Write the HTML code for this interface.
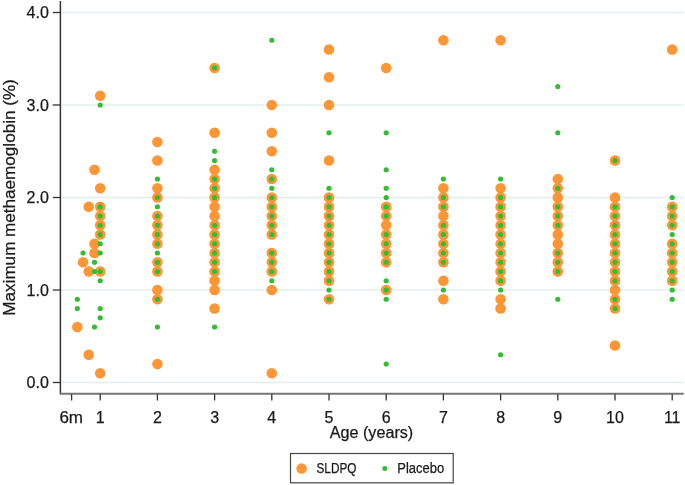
<!DOCTYPE html>
<html><head><meta charset="utf-8"><style>
html,body{margin:0;padding:0;background:#fff;width:685px;height:485px;overflow:hidden}
svg{display:block;will-change:transform;}
svg{font-family:"Liberation Sans",sans-serif}
text{stroke:#1a1a1a;stroke-width:0.25px}
</style></head><body><svg width="685" height="485" viewBox="0 0 685 485"><g stroke="#e4eef1" stroke-width="1.6"><line x1="61" y1="382.5" x2="683.7" y2="382.5"/><line x1="61" y1="290" x2="683.7" y2="290"/><line x1="61" y1="197.5" x2="683.7" y2="197.5"/><line x1="61" y1="105" x2="683.7" y2="105"/><line x1="61" y1="12.5" x2="683.7" y2="12.5"/></g><g fill="#fd9636"><circle cx="77.32" cy="327" r="5.3"/><circle cx="83.04" cy="262.25" r="5.3"/><circle cx="88.76" cy="206.75" r="5.3"/><circle cx="88.76" cy="271.5" r="5.3"/><circle cx="88.76" cy="354.75" r="5.3"/><circle cx="94.48" cy="169.75" r="5.3"/><circle cx="94.48" cy="243.75" r="5.3"/><circle cx="94.48" cy="253" r="5.3"/><circle cx="100.2" cy="95.75" r="5.3"/><circle cx="100.2" cy="188.25" r="5.3"/><circle cx="100.2" cy="206.75" r="5.3"/><circle cx="100.2" cy="216" r="5.3"/><circle cx="100.2" cy="225.25" r="5.3"/><circle cx="100.2" cy="234.5" r="5.3"/><circle cx="100.2" cy="271.5" r="5.3"/><circle cx="100.2" cy="373.25" r="5.3"/><circle cx="157.4" cy="142" r="5.3"/><circle cx="157.4" cy="160.5" r="5.3"/><circle cx="157.4" cy="188.25" r="5.3"/><circle cx="157.4" cy="197.5" r="5.3"/><circle cx="157.4" cy="216" r="5.3"/><circle cx="157.4" cy="225.25" r="5.3"/><circle cx="157.4" cy="234.5" r="5.3"/><circle cx="157.4" cy="243.75" r="5.3"/><circle cx="157.4" cy="262.25" r="5.3"/><circle cx="157.4" cy="271.5" r="5.3"/><circle cx="157.4" cy="290" r="5.3"/><circle cx="157.4" cy="299.25" r="5.3"/><circle cx="157.4" cy="364" r="5.3"/><circle cx="214.6" cy="68" r="5.3"/><circle cx="214.6" cy="132.75" r="5.3"/><circle cx="214.6" cy="169.75" r="5.3"/><circle cx="214.6" cy="179" r="5.3"/><circle cx="214.6" cy="188.25" r="5.3"/><circle cx="214.6" cy="197.5" r="5.3"/><circle cx="214.6" cy="206.75" r="5.3"/><circle cx="214.6" cy="216" r="5.3"/><circle cx="214.6" cy="225.25" r="5.3"/><circle cx="214.6" cy="234.5" r="5.3"/><circle cx="214.6" cy="243.75" r="5.3"/><circle cx="214.6" cy="253" r="5.3"/><circle cx="214.6" cy="262.25" r="5.3"/><circle cx="214.6" cy="271.5" r="5.3"/><circle cx="214.6" cy="280.75" r="5.3"/><circle cx="214.6" cy="290" r="5.3"/><circle cx="214.6" cy="308.5" r="5.3"/><circle cx="271.8" cy="105" r="5.3"/><circle cx="271.8" cy="132.75" r="5.3"/><circle cx="271.8" cy="151.25" r="5.3"/><circle cx="271.8" cy="179" r="5.3"/><circle cx="271.8" cy="197.5" r="5.3"/><circle cx="271.8" cy="206.75" r="5.3"/><circle cx="271.8" cy="216" r="5.3"/><circle cx="271.8" cy="225.25" r="5.3"/><circle cx="271.8" cy="234.5" r="5.3"/><circle cx="271.8" cy="253" r="5.3"/><circle cx="271.8" cy="262.25" r="5.3"/><circle cx="271.8" cy="271.5" r="5.3"/><circle cx="271.8" cy="290" r="5.3"/><circle cx="271.8" cy="373.25" r="5.3"/><circle cx="329" cy="49.5" r="5.3"/><circle cx="329" cy="77.25" r="5.3"/><circle cx="329" cy="105" r="5.3"/><circle cx="329" cy="160.5" r="5.3"/><circle cx="329" cy="197.5" r="5.3"/><circle cx="329" cy="206.75" r="5.3"/><circle cx="329" cy="216" r="5.3"/><circle cx="329" cy="225.25" r="5.3"/><circle cx="329" cy="234.5" r="5.3"/><circle cx="329" cy="243.75" r="5.3"/><circle cx="329" cy="253" r="5.3"/><circle cx="329" cy="262.25" r="5.3"/><circle cx="329" cy="271.5" r="5.3"/><circle cx="329" cy="280.75" r="5.3"/><circle cx="329" cy="299.25" r="5.3"/><circle cx="386.2" cy="68" r="5.3"/><circle cx="386.2" cy="206.75" r="5.3"/><circle cx="386.2" cy="216" r="5.3"/><circle cx="386.2" cy="225.25" r="5.3"/><circle cx="386.2" cy="234.5" r="5.3"/><circle cx="386.2" cy="243.75" r="5.3"/><circle cx="386.2" cy="253" r="5.3"/><circle cx="386.2" cy="262.25" r="5.3"/><circle cx="386.2" cy="290" r="5.3"/><circle cx="443.4" cy="40.25" r="5.3"/><circle cx="443.4" cy="188.25" r="5.3"/><circle cx="443.4" cy="197.5" r="5.3"/><circle cx="443.4" cy="206.75" r="5.3"/><circle cx="443.4" cy="216" r="5.3"/><circle cx="443.4" cy="225.25" r="5.3"/><circle cx="443.4" cy="234.5" r="5.3"/><circle cx="443.4" cy="243.75" r="5.3"/><circle cx="443.4" cy="253" r="5.3"/><circle cx="443.4" cy="262.25" r="5.3"/><circle cx="443.4" cy="280.75" r="5.3"/><circle cx="443.4" cy="299.25" r="5.3"/><circle cx="500.6" cy="40.25" r="5.3"/><circle cx="500.6" cy="188.25" r="5.3"/><circle cx="500.6" cy="197.5" r="5.3"/><circle cx="500.6" cy="206.75" r="5.3"/><circle cx="500.6" cy="216" r="5.3"/><circle cx="500.6" cy="225.25" r="5.3"/><circle cx="500.6" cy="234.5" r="5.3"/><circle cx="500.6" cy="243.75" r="5.3"/><circle cx="500.6" cy="253" r="5.3"/><circle cx="500.6" cy="262.25" r="5.3"/><circle cx="500.6" cy="271.5" r="5.3"/><circle cx="500.6" cy="280.75" r="5.3"/><circle cx="500.6" cy="299.25" r="5.3"/><circle cx="500.6" cy="308.5" r="5.3"/><circle cx="557.8" cy="179" r="5.3"/><circle cx="557.8" cy="188.25" r="5.3"/><circle cx="557.8" cy="197.5" r="5.3"/><circle cx="557.8" cy="206.75" r="5.3"/><circle cx="557.8" cy="216" r="5.3"/><circle cx="557.8" cy="225.25" r="5.3"/><circle cx="557.8" cy="234.5" r="5.3"/><circle cx="557.8" cy="243.75" r="5.3"/><circle cx="557.8" cy="253" r="5.3"/><circle cx="557.8" cy="262.25" r="5.3"/><circle cx="557.8" cy="271.5" r="5.3"/><circle cx="615" cy="160.5" r="5.3"/><circle cx="615" cy="197.5" r="5.3"/><circle cx="615" cy="206.75" r="5.3"/><circle cx="615" cy="216" r="5.3"/><circle cx="615" cy="225.25" r="5.3"/><circle cx="615" cy="234.5" r="5.3"/><circle cx="615" cy="243.75" r="5.3"/><circle cx="615" cy="253" r="5.3"/><circle cx="615" cy="262.25" r="5.3"/><circle cx="615" cy="271.5" r="5.3"/><circle cx="615" cy="280.75" r="5.3"/><circle cx="615" cy="290" r="5.3"/><circle cx="615" cy="299.25" r="5.3"/><circle cx="615" cy="308.5" r="5.3"/><circle cx="615" cy="345.5" r="5.3"/><circle cx="672.2" cy="49.5" r="5.3"/><circle cx="672.2" cy="206.75" r="5.3"/><circle cx="672.2" cy="216" r="5.3"/><circle cx="672.2" cy="225.25" r="5.3"/><circle cx="672.2" cy="243.75" r="5.3"/><circle cx="672.2" cy="253" r="5.3"/><circle cx="672.2" cy="262.25" r="5.3"/><circle cx="672.2" cy="271.5" r="5.3"/><circle cx="672.2" cy="280.75" r="5.3"/></g><g fill="#35bc35"><circle cx="77.32" cy="299.25" r="2.6"/><circle cx="77.32" cy="308.5" r="2.6"/><circle cx="83.04" cy="253" r="2.6"/><circle cx="94.48" cy="262.25" r="2.6"/><circle cx="94.48" cy="271.5" r="2.6"/><circle cx="94.48" cy="327" r="2.6"/><circle cx="100.2" cy="105" r="2.6"/><circle cx="100.2" cy="206.75" r="2.6"/><circle cx="100.2" cy="216" r="2.6"/><circle cx="100.2" cy="225.25" r="2.6"/><circle cx="100.2" cy="234.5" r="2.6"/><circle cx="100.2" cy="243.75" r="2.6"/><circle cx="100.2" cy="253" r="2.6"/><circle cx="100.2" cy="271.5" r="2.6"/><circle cx="100.2" cy="280.75" r="2.6"/><circle cx="100.2" cy="308.5" r="2.6"/><circle cx="100.2" cy="317.75" r="2.6"/><circle cx="157.4" cy="179" r="2.6"/><circle cx="157.4" cy="197.5" r="2.6"/><circle cx="157.4" cy="206.75" r="2.6"/><circle cx="157.4" cy="216" r="2.6"/><circle cx="157.4" cy="225.25" r="2.6"/><circle cx="157.4" cy="234.5" r="2.6"/><circle cx="157.4" cy="243.75" r="2.6"/><circle cx="157.4" cy="253" r="2.6"/><circle cx="157.4" cy="262.25" r="2.6"/><circle cx="157.4" cy="271.5" r="2.6"/><circle cx="157.4" cy="299.25" r="2.6"/><circle cx="157.4" cy="327" r="2.6"/><circle cx="214.6" cy="68" r="2.6"/><circle cx="214.6" cy="151.25" r="2.6"/><circle cx="214.6" cy="160.5" r="2.6"/><circle cx="214.6" cy="179" r="2.6"/><circle cx="214.6" cy="188.25" r="2.6"/><circle cx="214.6" cy="197.5" r="2.6"/><circle cx="214.6" cy="225.25" r="2.6"/><circle cx="214.6" cy="234.5" r="2.6"/><circle cx="214.6" cy="243.75" r="2.6"/><circle cx="214.6" cy="253" r="2.6"/><circle cx="214.6" cy="262.25" r="2.6"/><circle cx="214.6" cy="271.5" r="2.6"/><circle cx="214.6" cy="327" r="2.6"/><circle cx="271.8" cy="40.25" r="2.6"/><circle cx="271.8" cy="169.75" r="2.6"/><circle cx="271.8" cy="179" r="2.6"/><circle cx="271.8" cy="188.25" r="2.6"/><circle cx="271.8" cy="197.5" r="2.6"/><circle cx="271.8" cy="206.75" r="2.6"/><circle cx="271.8" cy="216" r="2.6"/><circle cx="271.8" cy="225.25" r="2.6"/><circle cx="271.8" cy="234.5" r="2.6"/><circle cx="271.8" cy="253" r="2.6"/><circle cx="271.8" cy="262.25" r="2.6"/><circle cx="271.8" cy="271.5" r="2.6"/><circle cx="271.8" cy="280.75" r="2.6"/><circle cx="329" cy="132.75" r="2.6"/><circle cx="329" cy="188.25" r="2.6"/><circle cx="329" cy="197.5" r="2.6"/><circle cx="329" cy="206.75" r="2.6"/><circle cx="329" cy="216" r="2.6"/><circle cx="329" cy="225.25" r="2.6"/><circle cx="329" cy="234.5" r="2.6"/><circle cx="329" cy="243.75" r="2.6"/><circle cx="329" cy="253" r="2.6"/><circle cx="329" cy="262.25" r="2.6"/><circle cx="329" cy="271.5" r="2.6"/><circle cx="329" cy="280.75" r="2.6"/><circle cx="329" cy="290" r="2.6"/><circle cx="329" cy="299.25" r="2.6"/><circle cx="386.2" cy="132.75" r="2.6"/><circle cx="386.2" cy="169.75" r="2.6"/><circle cx="386.2" cy="188.25" r="2.6"/><circle cx="386.2" cy="197.5" r="2.6"/><circle cx="386.2" cy="206.75" r="2.6"/><circle cx="386.2" cy="216" r="2.6"/><circle cx="386.2" cy="234.5" r="2.6"/><circle cx="386.2" cy="243.75" r="2.6"/><circle cx="386.2" cy="253" r="2.6"/><circle cx="386.2" cy="262.25" r="2.6"/><circle cx="386.2" cy="280.75" r="2.6"/><circle cx="386.2" cy="290" r="2.6"/><circle cx="386.2" cy="299.25" r="2.6"/><circle cx="386.2" cy="364" r="2.6"/><circle cx="443.4" cy="179" r="2.6"/><circle cx="443.4" cy="197.5" r="2.6"/><circle cx="443.4" cy="206.75" r="2.6"/><circle cx="443.4" cy="225.25" r="2.6"/><circle cx="443.4" cy="234.5" r="2.6"/><circle cx="443.4" cy="243.75" r="2.6"/><circle cx="443.4" cy="253" r="2.6"/><circle cx="443.4" cy="262.25" r="2.6"/><circle cx="443.4" cy="290" r="2.6"/><circle cx="500.6" cy="179" r="2.6"/><circle cx="500.6" cy="197.5" r="2.6"/><circle cx="500.6" cy="206.75" r="2.6"/><circle cx="500.6" cy="216" r="2.6"/><circle cx="500.6" cy="225.25" r="2.6"/><circle cx="500.6" cy="234.5" r="2.6"/><circle cx="500.6" cy="243.75" r="2.6"/><circle cx="500.6" cy="253" r="2.6"/><circle cx="500.6" cy="262.25" r="2.6"/><circle cx="500.6" cy="271.5" r="2.6"/><circle cx="500.6" cy="280.75" r="2.6"/><circle cx="500.6" cy="290" r="2.6"/><circle cx="500.6" cy="354.75" r="2.6"/><circle cx="557.8" cy="86.5" r="2.6"/><circle cx="557.8" cy="132.75" r="2.6"/><circle cx="557.8" cy="188.25" r="2.6"/><circle cx="557.8" cy="206.75" r="2.6"/><circle cx="557.8" cy="216" r="2.6"/><circle cx="557.8" cy="225.25" r="2.6"/><circle cx="557.8" cy="253" r="2.6"/><circle cx="557.8" cy="262.25" r="2.6"/><circle cx="557.8" cy="271.5" r="2.6"/><circle cx="557.8" cy="299.25" r="2.6"/><circle cx="615" cy="160.5" r="2.6"/><circle cx="615" cy="206.75" r="2.6"/><circle cx="615" cy="216" r="2.6"/><circle cx="615" cy="225.25" r="2.6"/><circle cx="615" cy="234.5" r="2.6"/><circle cx="615" cy="243.75" r="2.6"/><circle cx="615" cy="253" r="2.6"/><circle cx="615" cy="262.25" r="2.6"/><circle cx="615" cy="271.5" r="2.6"/><circle cx="615" cy="280.75" r="2.6"/><circle cx="615" cy="299.25" r="2.6"/><circle cx="615" cy="308.5" r="2.6"/><circle cx="672.2" cy="197.5" r="2.6"/><circle cx="672.2" cy="206.75" r="2.6"/><circle cx="672.2" cy="216" r="2.6"/><circle cx="672.2" cy="225.25" r="2.6"/><circle cx="672.2" cy="234.5" r="2.6"/><circle cx="672.2" cy="243.75" r="2.6"/><circle cx="672.2" cy="253" r="2.6"/><circle cx="672.2" cy="262.25" r="2.6"/><circle cx="672.2" cy="271.5" r="2.6"/><circle cx="672.2" cy="280.75" r="2.6"/><circle cx="672.2" cy="290" r="2.6"/><circle cx="672.2" cy="299.25" r="2.6"/></g><line x1="60.4" y1="1" x2="60.4" y2="394.5" stroke="#333" stroke-width="1.5"/><line x1="60" y1="393.8" x2="683.7" y2="393.8" stroke="#767676" stroke-width="2.1"/><g stroke="#333" stroke-width="1.3"><line x1="52.8" y1="382.5" x2="60" y2="382.5"/><line x1="52.8" y1="290" x2="60" y2="290"/><line x1="52.8" y1="197.5" x2="60" y2="197.5"/><line x1="52.8" y1="105" x2="60" y2="105"/><line x1="52.8" y1="12.5" x2="60" y2="12.5"/><line x1="71.6" y1="394" x2="71.6" y2="400.5"/><line x1="100.2" y1="394" x2="100.2" y2="400.5"/><line x1="157.4" y1="394" x2="157.4" y2="400.5"/><line x1="214.6" y1="394" x2="214.6" y2="400.5"/><line x1="271.8" y1="394" x2="271.8" y2="400.5"/><line x1="329" y1="394" x2="329" y2="400.5"/><line x1="386.2" y1="394" x2="386.2" y2="400.5"/><line x1="443.4" y1="394" x2="443.4" y2="400.5"/><line x1="500.6" y1="394" x2="500.6" y2="400.5"/><line x1="557.8" y1="394" x2="557.8" y2="400.5"/><line x1="615" y1="394" x2="615" y2="400.5"/><line x1="672.2" y1="394" x2="672.2" y2="400.5"/></g><g font-size="16" fill="#1a1a1a"><text x="48.8" y="388.3" text-anchor="end">0.0</text><text x="48.8" y="295.8" text-anchor="end">1.0</text><text x="48.8" y="203.3" text-anchor="end">2.0</text><text x="48.8" y="110.8" text-anchor="end">3.0</text><text x="48.8" y="18.3" text-anchor="end">4.0</text><text x="71.2" y="422.5" text-anchor="middle" textLength="23.6" lengthAdjust="spacingAndGlyphs">6m</text><text x="100.2" y="422.5" text-anchor="middle">1</text><text x="157.4" y="422.5" text-anchor="middle">2</text><text x="214.6" y="422.5" text-anchor="middle">3</text><text x="271.8" y="422.5" text-anchor="middle">4</text><text x="329" y="422.5" text-anchor="middle">5</text><text x="386.2" y="422.5" text-anchor="middle">6</text><text x="443.4" y="422.5" text-anchor="middle">7</text><text x="500.6" y="422.5" text-anchor="middle">8</text><text x="557.8" y="422.5" text-anchor="middle">9</text><text x="615" y="422.5" text-anchor="middle">10</text><text x="672.2" y="422.5" text-anchor="middle">11</text></g><text x="371.5" y="438.2" text-anchor="middle" font-size="16" fill="#1a1a1a" textLength="83.5" lengthAdjust="spacingAndGlyphs">Age (years)</text><text transform="translate(14.7,197.45) rotate(-90)" text-anchor="middle" font-size="16" fill="#1a1a1a" textLength="236.5" lengthAdjust="spacingAndGlyphs">Maximum methaemoglobin (%)</text><rect x="290.5" y="453.5" width="162.7" height="29.3" fill="#fff" stroke="#444" stroke-width="1.2"/><circle cx="301.6" cy="468.5" r="5.25" fill="#fd9636"/><circle cx="384.8" cy="468.4" r="2.5" fill="#35bc35"/><text x="316.5" y="472.7" font-size="14" fill="#1a1a1a" textLength="40" lengthAdjust="spacingAndGlyphs">SLDPQ</text><text x="397.3" y="472.8" font-size="14" fill="#1a1a1a" textLength="46.8" lengthAdjust="spacingAndGlyphs">Placebo</text></svg></body></html>
